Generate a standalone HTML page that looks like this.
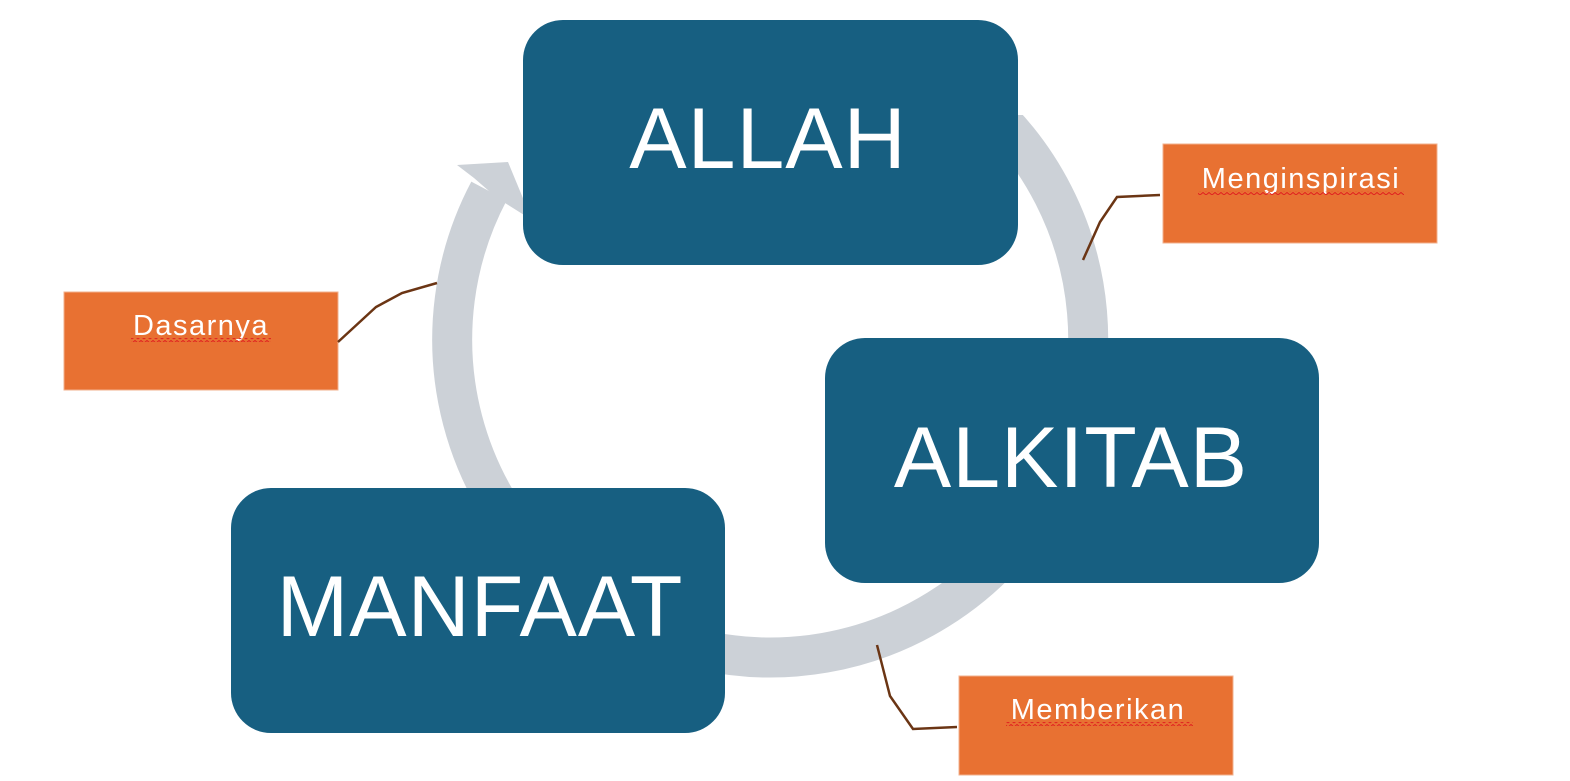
<!DOCTYPE html>
<html><head><meta charset="utf-8"><style>
html,body{margin:0;padding:0;background:#fff;width:1570px;height:781px;overflow:hidden}
svg{position:absolute;left:0;top:0}
</style></head><body>
<svg width="1570" height="781" viewBox="0 0 1570 781">
<defs>
<pattern id="wv" width="6" height="4" patternUnits="userSpaceOnUse">
<polyline points="0,3 3,0.5 6,3" fill="none" stroke="#e02020" stroke-width="1"/>
</pattern>
</defs>
<path d="M489 191 A318 318 0 1 0 985 105" fill="none" stroke="#ccd1d7" stroke-width="40"/>
<rect x="1018" y="20" width="8" height="95" fill="#fff"/>
<polygon points="457,165 508,162 532,220 497,198 474,178" fill="#ccd1d7"/>
<g fill="#175f81">
<rect x="523" y="20" width="495" height="245" rx="40"/>
<rect x="825" y="338" width="494" height="245" rx="40"/>
<rect x="231" y="488" width="494" height="245" rx="40"/>
</g>
<g fill="#fff" font-family="Liberation Sans, sans-serif" font-size="86" text-anchor="middle" letter-spacing="1">
<text x="768" y="168">ALLAH</text>
<text x="1071" y="487">ALKITAB</text>
<text x="480" y="636">MANFAAT</text>
</g>
<g fill="#e87132" stroke="#f2b08c" stroke-width="1">
<rect x="1163" y="144" width="274" height="99"/>
<rect x="64" y="292" width="274" height="98"/>
<rect x="959" y="676" width="274" height="99"/>
</g>
<g fill="#fff" font-family="Liberation Sans, sans-serif" font-size="29" text-anchor="middle" letter-spacing="1.5">
<text x="1301" y="188">Menginspirasi</text>
<text x="201" y="335">Dasarnya</text>
<text x="1098" y="719">Memberikan</text>
</g>
<g fill="url(#wv)">
<rect x="1198" y="191" width="206" height="4"/>
<rect x="131" y="338" width="140" height="4"/>
<rect x="1006" y="722" width="187" height="4"/>
</g>
<g fill="none" stroke="#6b3514" stroke-width="2.5">
<polyline points="1160,195 1117,197 1100,222 1083,260"/>
<polyline points="437,283 402,293 376,307 338,342"/>
<polyline points="957,727 913,729 890,696 877,645"/>
</g>
</svg>
</body></html>
